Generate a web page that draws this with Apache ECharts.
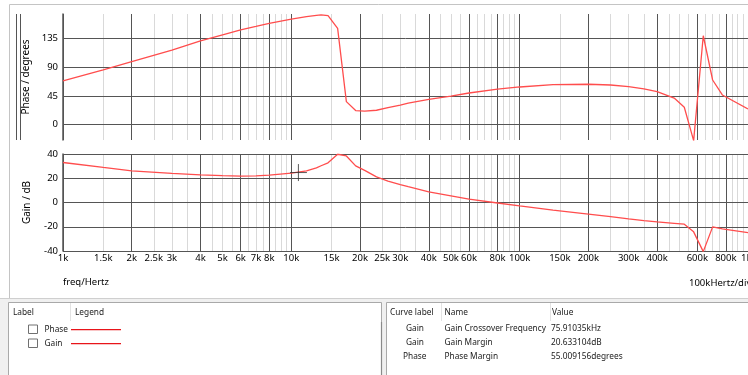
<!DOCTYPE html>
<html>
<head>
<meta charset="utf-8">
<title>Bode plot</title>
<script src="https://cdn.jsdelivr.net/npm/echarts@6/dist/echarts.min.js"></script>
<style>
  html, body { margin: 0; padding: 0; background: #ffffff; }
  #chart { width: 748px; height: 375px; }
</style>
</head>
<body>
<div id="chart"></div>
<script>
// Sweep frequencies (Hz) shared by both curves
const freqHz = [1000, 1500, 2000, 3000, 4000, 5000, 6000, 7000, 8000, 10000,
  11650, 12880, 13500, 14480, 15950, 17420, 19130, 20950, 23600, 26500,
  30000, 32500, 40000, 50000, 60000, 80000, 100000, 140000, 200000, 250000,
  300000, 350000, 400000, 475000, 526000, 578000, 637000, 700000, 772000, 1000000];

// Loop phase (degrees)
const phaseDeg = [68.5, 85.5, 98.5, 116.5, 131, 140.5, 148, 153.5, 158.5, 165,
  169, 171, 171.7, 170.5, 150.6, 36, 22, 21, 22.5, 26.5,
  30.5, 33.5, 39.5, 44.5, 49.5, 55.5, 58.9, 62.5, 63.2, 62,
  59.5, 56, 51.6, 41.5, 27.2, -25, 139, 69.8, 46.4, 24.5];

// Loop gain (dB)
const gainDb = [33, 28.9, 26.1, 24, 22.8, 22.2, 21.8, 21.9, 22.6, 24.2,
  26.1, 28.5, 30.3, 32.7, 39.8, 38.4, 30.2, 26.5, 21.1, 17.7,
  14.8, 13, 8.7, 5.4, 2.7, -0.4, -2.8, -6.3, -9.6, -11.7,
  -13.5, -14.9, -16, -17.2, -17.9, -24.2, -40.5, -20.1, -21.8, -24.8];

// Cursor position on the gain trace
const cursorPoint = [10740, 24.7];

// Frequency axis labels
const labelFreqs = [1000, 1500, 2000, 2500, 3000, 4000, 5000, 6000, 7000, 8000,
  10000, 15000, 20000, 25000, 30000, 40000, 50000, 60000, 80000,
  100000, 150000, 200000, 300000, 400000, 600000, 800000, 1000000];
const labelTexts = ['1k', '1.5k', '2k', '2.5k', '3k', '4k', '5k', '6k', '7k', '8k',
  '10k', '15k', '20k', '25k', '30k', '40k', '50k', '60k', '80k',
  '100k', '150k', '200k', '300k', '400k', '600k', '800k', '1M'];

// Grid line multipliers inside each decade
const decades = [1000, 10000, 100000];
const majorSteps = [1, 2, 4, 6, 8];
const minorSteps = [1.5, 2.5, 3, 3.5, 4.5, 5, 5.5, 6.5, 7, 7.5, 8.5, 9, 9.5];

const phaseTicks = [0, 45, 90, 135];
const phaseRange = [-24, 173];
const gainRange = [-40, 40];

// Results table
const resultRows = [
  ['Gain', 'Gain Crossover Frequency', '75.91035kHz'],
  ['Gain', 'Gain Margin', '20.633104dB'],
  ['Phase', 'Phase Margin', '55.009156degrees']
];
const curveNames = ['Phase', 'Gain'];

const FONT = 'Noto Sans';
const DARK = '#555555';
const LIGHT = '#d9d9d9';
const TRACE = '#ff4d4d';
const LEGEND_RED = '#e8141a';

const majorFreqs = [];
decades.forEach(d => majorSteps.forEach(s => majorFreqs.push(s * d)));
majorFreqs.push(1000000);
const minorFreqs = [];
decades.forEach(d => minorSteps.forEach(s => minorFreqs.push(s * d)));

const lg = v => Math.log10(v);
const majorLog = majorFreqs.map(lg);
const minorLog = minorFreqs.map(lg);
const labelLog = labelFreqs.map(lg);

function freqLabel(v) {
  for (let i = 0; i < labelLog.length; i++) {
    if (Math.abs(labelLog[i] - v) < 1e-6) return labelTexts[i];
  }
  return '';
}

// One log axis carries the data; two linear axes over log10(f) draw the grid
function freqAxes(gridIndex, withLabels) {
  return [
    { gridIndex, type: 'log', logBase: 10, min: 1000, max: 1000000, show: false },
    {
      gridIndex, type: 'value', min: 3, max: 6, position: 'bottom', z: 0,
      axisLine: { show: false },
      axisTick: { show: false, customValues: minorLog },
      axisLabel: { show: false },
      splitLine: { show: true, lineStyle: { color: LIGHT, width: 1 } }
    },
    {
      gridIndex, type: 'value', min: 3, max: 6, position: 'bottom', z: 1,
      axisLine: { show: false },
      axisTick: { show: false, customValues: majorLog },
      axisLabel: {
        show: withLabels, customValues: labelLog, formatter: freqLabel,
        margin: 2, color: '#000', fontFamily: FONT, fontSize: 9.5,
        showMinLabel: true, showMaxLabel: true
      },
      splitLine: { show: true, lineStyle: { color: DARK, width: 1 } }
    }
  ];
}

const grid = [
  { left: 63, right: 0, top: 14, height: 126, outerBoundsMode: 'none', containLabel: false },
  { left: 63, right: 0, top: 154, height: 97, outerBoundsMode: 'none', containLabel: false }
];

const yAxis = [
  {
    gridIndex: 0, type: 'value', min: phaseRange[0], max: phaseRange[1], z: 1,
    name: 'Phase / degrees', nameLocation: 'middle', nameGap: 32,
    nameTextStyle: { color: '#000', fontFamily: FONT, fontSize: 10 },
    axisLine: { show: true, lineStyle: { color: '#555', width: 1.5 } },
    axisTick: { show: false, customValues: phaseTicks },
    axisLabel: { customValues: phaseTicks, margin: 5, color: '#000', fontFamily: FONT, fontSize: 9.5 },
    splitLine: { show: true, lineStyle: { color: DARK, width: 1 } }
  },
  {
    gridIndex: 1, type: 'value', min: gainRange[0], max: gainRange[1], interval: 20, z: 1,
    name: 'Gain / dB', nameLocation: 'middle', nameGap: 31,
    nameTextStyle: { color: '#000', fontFamily: FONT, fontSize: 10 },
    axisLine: { show: true, lineStyle: { color: '#555', width: 1.5 } },
    axisTick: { show: false },
    axisLabel: { margin: 5, color: '#000', fontFamily: FONT, fontSize: 9.5 },
    splitLine: { show: true, lineStyle: { color: DARK, width: 1 } }
  }
];

const xAxis = freqAxes(0, false).concat(freqAxes(1, true));

const series = [
  {
    name: 'Phase', type: 'line', xAxisIndex: 0, yAxisIndex: 0,
    data: freqHz.map((f, i) => [f, phaseDeg[i]]),
    showSymbol: false, clip: true, z: 3,
    lineStyle: { color: TRACE, width: 1.3 }
  },
  {
    name: 'Gain', type: 'line', xAxisIndex: 3, yAxisIndex: 1,
    data: freqHz.map((f, i) => [f, gainDb[i]]),
    showSymbol: false, clip: true, z: 3,
    lineStyle: { color: TRACE, width: 1.3 }
  },
  {
    name: 'cursor', type: 'scatter', xAxisIndex: 3, yAxisIndex: 1,
    data: [cursorPoint], z: 4, silent: true,
    symbol: 'path://M0,8.5L17,8.5M8.5,0L8.5,17', symbolSize: 17,
    itemStyle: { color: 'none', borderColor: '#333', borderWidth: 1 }
  }
];

// Window frame, captions and the two info panels underneath
const TABLE_FONT = '8.3px "' + FONT + '"';
const txt = (x, y, text, extra) => ({
  type: 'text', x, y, silent: true,
  style: Object.assign({ text, fill: '#1a1a1a', font: TABLE_FONT, verticalAlign: 'middle' }, extra || {})
});
const ln = (x1, y1, x2, y2, stroke, w) => ({
  type: 'line', silent: true, shape: { x1, y1, x2, y2 }, style: { stroke, lineWidth: w || 1 }
});
const bar = (x, y, w, h, fill) => ({
  type: 'rect', silent: true, z: 10, shape: { x, y, width: w, height: h }, style: { fill, stroke: null }
});

const graphic = [
  ln(9.5, 4.5, 748, 4.5, '#c4c4c4'),
  ln(9.5, 4.5, 9.5, 298, '#c4c4c4'),
  ln(16.5, 14, 16.5, 140, '#555'),
  ln(20.5, 14, 20.5, 140, '#555'),
  txt(63, 282, 'freq/Hertz', { font: '9.5px "' + FONT + '"', fill: '#000' }),
  txt(689, 283, '100kHertz/div', { font: '9.5px "' + FONT + '"', fill: '#000' }),
  { type: 'rect', silent: true, shape: { x: 0, y: 298, width: 748, height: 77 }, style: { fill: '#f0f0f0' } },
  ln(0, 298.5, 748, 298.5, '#cfcfcf'),
  { type: 'rect', silent: true, shape: { x: 8.5, y: 302.5, width: 373, height: 80 }, style: { fill: '#fff', stroke: '#a9a9a9' } },
  { type: 'rect', silent: true, shape: { x: 386.5, y: 302.5, width: 370, height: 80 }, style: { fill: '#fff', stroke: '#a9a9a9' } },
  ln(381.5, 322, 381.5, 375, '#8a8a8a', 1.2),
  ln(70.5, 303, 70.5, 321, '#e3e3e3'),
  ln(441.5, 303, 441.5, 321, '#e3e3e3'),
  ln(550.5, 303, 550.5, 321, '#e3e3e3'),
  txt(13, 313, 'Label'),
  txt(75, 313, 'Legend'),
  txt(390, 313, 'Curve label'),
  txt(444.5, 313, 'Name'),
  txt(552, 313, 'Value')
];

curveNames.forEach((name, i) => {
  const y = 329 + i * 14;
  graphic.push({ type: 'rect', silent: true, shape: { x: 28.5, y: y - 4, width: 9, height: 8.5 },
    style: { fill: '#fff', stroke: '#707070' } });
  graphic.push(txt(44.5, y + 0.5, name));
  graphic.push(bar(71, y, 50, 1.3, LEGEND_RED));
});

resultRows.forEach((row, i) => {
  const y = 328.5 + i * 14;
  graphic.push(txt(row[0] === 'Phase' ? 403 : 406, y, row[0]));
  graphic.push(txt(444.5, y, row[1]));
  graphic.push(txt(551, y, row[2]));
});

const chart = echarts.init(document.getElementById('chart'), null, { renderer: 'canvas' });
chart.setOption({
  animation: false,
  backgroundColor: '#ffffff',
  grid, xAxis, yAxis, series, graphic
});
</script>
</body>
</html>
